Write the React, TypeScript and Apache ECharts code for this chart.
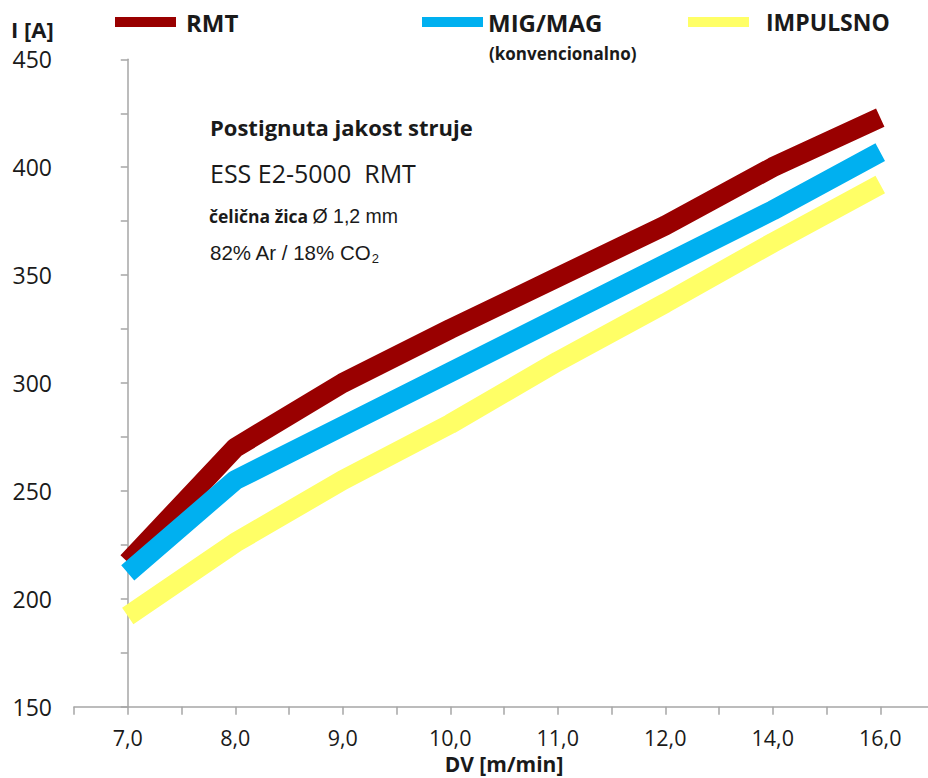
import React, { useEffect, useRef } from "react";
import * as echarts from "echarts";

const categories = ["7,0", "8,0", "9,0", "10,0", "11,0", "12,0", "14,0", "16,0"];
const rmt = [217, 270, 300, 325, 349, 373, 400, 423];
const migMag = [212, 255, 280, 305, 330, 355, 380, 407];
const impulsno = [192, 226, 255, 281, 310, 337, 365, 392];
const seriesNames = ["RMT", "MIG/MAG", "IMPULSNO"];
const seriesColors = ["#990000", "#00B0F0", "#FFFF66"];

const FONT = "'Open Sans', 'Noto Sans', sans-serif";
const ARIAL = "'Liberation Sans', Arial, sans-serif";
const TXT = "#1a1a1a";

export default function App() {
  const ref = useRef<HTMLDivElement>(null);
  useEffect(() => {
    if (!ref.current) return;
    document.body.style.margin = "0";
    const chart = echarts.init(ref.current, null, { renderer: "svg" });
    const values = [rmt, migMag, impulsno];
    const legendDefs = [
      { left: 110, pad: 5, size: 24 },
      { left: 417, pad: 0, size: 24 },
      { left: 683, pad: 12, size: 23 },
    ];
    chart.setOption({
      animation: false,
      backgroundColor: "#ffffff",
      grid: { left: 74, top: 59.3, bottom: 71.3, width: 860, containLabel: false, outerBoundsMode: "none" },
      legend: seriesNames.map((n, i) => ({
        data: [n],
        left: legendDefs[i].left,
        top: 2,
        icon: "rect",
        itemWidth: 61,
        itemHeight: 10,
        selectedMode: false,
        itemStyle: { borderWidth: 0 },
        textStyle: {
          fontFamily: FONT,
          fontSize: legendDefs[i].size,
          fontWeight: "bold",
          color: TXT,
          lineHeight: 26,
          padding: [4, 0, 0, legendDefs[i].pad],
        },
      })),
      xAxis: {
        type: "value",
        min: -0.5,
        max: 7.5,
        interval: 0.5,
        name: "DV [m/min]",
        nameLocation: "middle",
        nameGap: 47,
        nameMoveOverlap: false,
        nameTextStyle: { fontFamily: FONT, fontSize: 21, lineHeight: 20, fontWeight: "bold", color: TXT },
        axisLine: { show: true, lineStyle: { color: "#a6a6a6", width: 1.5 } },
        axisTick: { show: true, length: 8, lineStyle: { color: "#a6a6a6", width: 1.5 } },
        splitLine: { show: false },
        axisLabel: {
          margin: 21,
          fontFamily: FONT,
          fontSize: 21.5,
          lineHeight: 20,
          color: TXT,
          showMinLabel: true,
          showMaxLabel: true,
          hideOverlap: false,
          formatter: (v: number) => (Number.isInteger(v) && v >= 0 && v < categories.length ? categories[v] : ""),
        },
      },
      yAxis: {
        type: "value",
        min: 150,
        max: 450,
        interval: 25,
        axisLine: { show: true, lineStyle: { color: "#a6a6a6", width: 1.5 } },
        axisTick: { show: true, length: 7, lineStyle: { color: "#a6a6a6", width: 1.5 } },
        splitLine: { show: false },
        axisLabel: {
          margin: 22,
          fontFamily: FONT,
          fontSize: 23,
          lineHeight: 23,
          color: TXT,
          formatter: (v: number) => (v % 50 === 0 ? String(v) : ""),
        },
      },
      graphic: [
        {
          type: "text",
          x: 11,
          y: 29,
          style: { text: "I [A]", fontFamily: FONT, fontSize: 22, lineHeight: 22, fontWeight: "bold", fill: TXT, verticalAlign: "middle" },
        },
        {
          type: "text",
          x: 489,
          y: 53,
          style: { text: "(konvencionalno)", fontFamily: FONT, fontSize: 17, fontWeight: "bold", fill: TXT, verticalAlign: "middle" },
        },
        {
          type: "text",
          x: 210,
          y: 127,
          style: { text: "Postignuta jakost struje", fontFamily: FONT, fontSize: 22, fontWeight: "bold", fill: TXT, verticalAlign: "middle" },
        },
        {
          type: "text",
          x: 210,
          y: 173,
          style: { text: "ESS E2-5000  RMT", fontFamily: FONT, fontSize: 25, fill: TXT, verticalAlign: "middle" },
        },
        {
          type: "text",
          x: 209,
          y: 216,
          style: {
            text: "{b|čelična žica} {r|Ø 1,2 mm}",
            fontFamily: FONT,
            fontSize: 17,
            fill: TXT,
            verticalAlign: "middle",
            rich: {
              b: { fontFamily: FONT, fontSize: 17.5, fontWeight: "bold", fill: TXT },
              r: { fontFamily: ARIAL, fontSize: 19.5, fill: TXT },
            },
          },
        },
        {
          type: "text",
          x: 210,
          y: 252,
          style: {
            text: "82% Ar / 18% CO{sub|2}",
            fontFamily: ARIAL,
            fontSize: 20.5,
            fill: TXT,
            lineHeight: 26,
            verticalAlign: "middle",
            rich: { sub: { fontFamily: ARIAL, fontSize: 13, lineHeight: 15, verticalAlign: "bottom", fill: TXT } },
          },
        },
      ],
      series: seriesNames.map((n, i) => ({
        name: n,
        type: "line",
        symbol: "none",
        itemStyle: { color: seriesColors[i] },
        lineStyle: { color: seriesColors[i], width: 20, cap: "butt", join: "bevel" },
        data: categories.map((_, k) => [k, values[i][k]]),
      })),
    });
    return () => chart.dispose();
  }, []);
  return <div ref={ref} style={{ position: "fixed", left: 0, top: 0, width: 928, height: 778 }} />;
}
